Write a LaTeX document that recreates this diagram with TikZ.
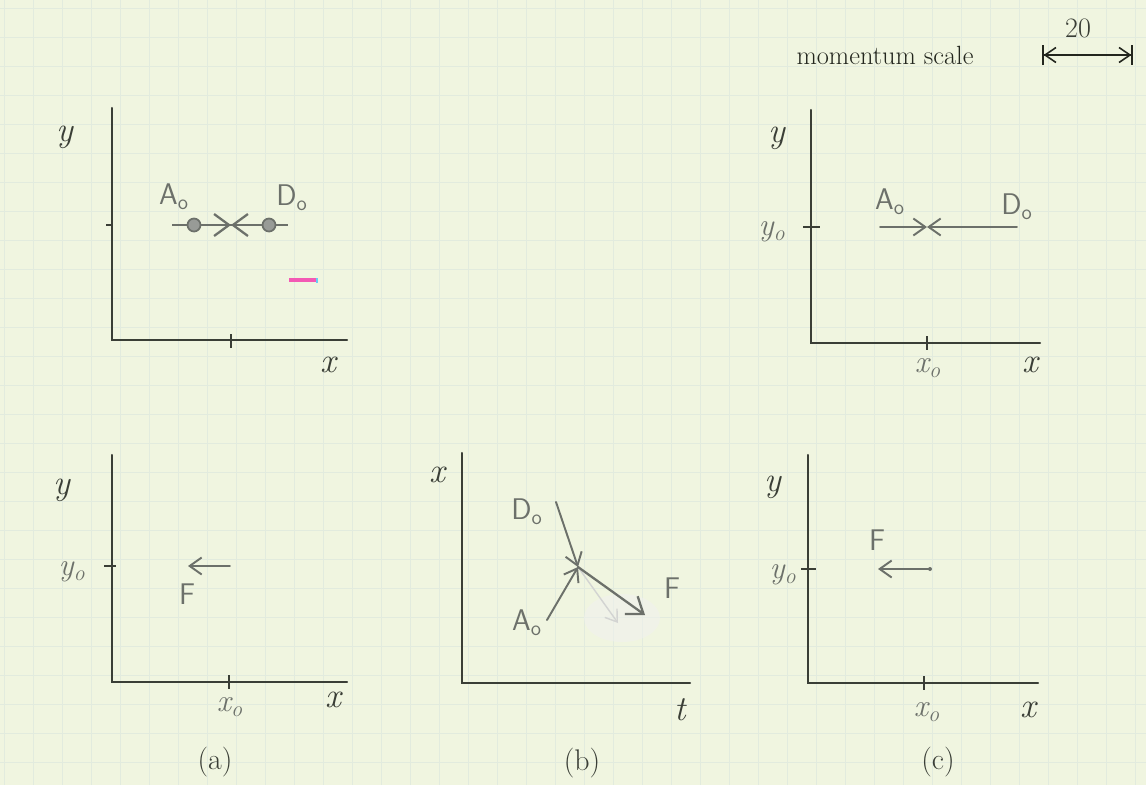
\documentclass[tikz,border=0pt]{standalone}
\usetikzlibrary{arrows.meta}
\definecolor{paper}{RGB}{240,245,224}
\definecolor{gridc}{RGB}{226,235,222}
\definecolor{pencil}{RGB}{108,112,106}
\definecolor{axisc}{RGB}{58,62,54}
\definecolor{inkc}{RGB}{35,38,30}
\begin{document}
\begin{tikzpicture}[x=0.02cm,y=-0.02cm,
  axis/.style={draw=axisc, line width=1.2pt, line cap=round},
  tickmark/.style={draw=axisc, line width=0.8pt},
  vec/.style={draw=pencil, line width=1.1pt, line cap=round, -{Straight Barb[length=2.4mm,width=3.4mm,line width=1.1pt]}},
  bigvec/.style={draw=pencil, line width=1.3pt, line cap=round, -{Straight Barb[length=3mm,width=4.4mm,line width=1.3pt]}},
  faintvec/.style={draw=pencil!30, line width=0.8pt, -{Straight Barb[length=2.2mm,width=3mm]}},
  lab/.style={text=pencil, font=\fontsize{17}{19}\selectfont\sffamily, inner sep=0pt},
  axlab/.style={text=axisc, font=\fontsize{20}{22}\selectfont\itshape, inner sep=0pt},
  sublab/.style={text=pencil, font=\fontsize{18}{20}\selectfont\itshape, inner sep=0pt},
  captxt/.style={text=axisc, font=\fontsize{17}{19}\selectfont, inner sep=0pt},
  ball/.style={circle, draw=pencil, line width=1pt, fill=pencil!70, minimum size=0.26cm, inner sep=0pt},
]
\fill[paper] (0,0) rectangle (1146,785);
\useasboundingbox (0,0) rectangle (1146,785);
% graph paper grid
\foreach \i in {0,...,40} \draw[gridc, line width=0.4pt] (\i*29+4,0) -- (\i*29+4,785);
\foreach \j in {0,...,27} \draw[gridc, line width=0.4pt] (0,\j*29+8) -- (1146,\j*29+8);

% ---------- momentum scale ----------
\node[text=inkc, font=\fontsize{15}{17}\selectfont, inner sep=0pt] (msc) at (885,55) {momentum scale};
\node[text=axisc, font=\fontsize{16}{18}\selectfont, inner sep=0pt] (twenty) at (1078,28) {20};
\coordinate (s1) at (1042,55);
\coordinate (s2) at (1133,55);
\draw[draw=inkc, line width=0.9pt, {Bar[width=4mm]Straight Barb[length=2.2mm,width=3mm]}-{Straight Barb[length=2.2mm,width=3mm]Bar[width=4mm]}] (s1) -- (s2);

% ---------- top left panel ----------
\coordinate (o1) at (112,340);
\coordinate (t1) at (112,108);
\coordinate (e1) at (347,340);
\draw[axis] (t1) -- (o1) -- (e1);
\coordinate (xt1a) at (231,334); \coordinate (xt1b) at (231,348);
\draw[tickmark] (xt1a) -- (xt1b);
\coordinate (yt1a) at (106,225); \coordinate (yt1b) at (112,225);
\draw[tickmark] (yt1a) -- (yt1b);
\coordinate (l1a) at (172,225); \coordinate (l1b) at (288,225);
\draw[draw=pencil, line width=1pt] (l1a) -- (l1b);
\node[ball] (ca) at (194,225) {};
\node[ball] (cd) at (269,225) {};
\coordinate (c1) at (231,225);
\draw[bigvec] (ca) -- (c1);
\draw[bigvec] (cd) -- (c1);
\node[lab] (a1) at (174,197) {A\textsubscript{o}};
\node[lab] (d1) at (292,198) {D\textsubscript{o}};
\node[axlab] (ylab1) at (65,137) {y};
\node[axlab] (xlab1) at (328,365) {x};
\fill[magenta!65] (289,278) rectangle (316,282);
\fill[cyan!60] (316,278) rectangle (318,283);

% ---------- top right panel ----------
\coordinate (o2) at (811,343);
\coordinate (t2) at (811,110);
\coordinate (e2) at (1040,343);
\draw[axis] (t2) -- (o2) -- (e2);
\coordinate (xt2a) at (927,336); \coordinate (xt2b) at (927,350);
\draw[tickmark] (xt2a) -- (xt2b);
\coordinate (yt2a) at (803,227); \coordinate (yt2b) at (820,227);
\draw[tickmark] (yt2a) -- (yt2b);
\coordinate (a2s) at (880,227);
\coordinate (c2) at (927,227);
\coordinate (d2s) at (1017,227);
\draw[vec] (a2s) -- (c2);
\draw[vec] (d2s) -- (c2);
\node[lab] (a2) at (890,202) {A\textsubscript{o}};
\node[lab] (d2) at (1017,207) {D\textsubscript{o}};
\node[axlab] (ylab2) at (777,138) {y};
\node[sublab] (y0lab2) at (772,232) {y\textsubscript{o}};
\node[sublab] (x0lab2) at (928,368) {x\textsubscript{o}};
\node[axlab] (xlab2) at (1030,365) {x};

% ---------- bottom left panel (a) ----------
\coordinate (o3) at (112,682);
\coordinate (t3) at (112,455);
\coordinate (e3) at (347,682);
\draw[axis] (t3) -- (o3) -- (e3);
\coordinate (xt3a) at (229,675); \coordinate (xt3b) at (229,689);
\draw[tickmark] (xt3a) -- (xt3b);
\coordinate (yt3a) at (104,566); \coordinate (yt3b) at (116,566);
\draw[tickmark] (yt3a) -- (yt3b);
\coordinate (f3s) at (230,566);
\coordinate (f3e) at (188,566);
\draw[vec] (f3s) -- (f3e);
\node[lab] (f3) at (187,594) {F};
\node[axlab] (ylab3) at (62,490) {y};
\node[sublab] (y0lab3) at (72,572) {y\textsubscript{o}};
\node[sublab] (x0lab3) at (230,707) {x\textsubscript{o}};
\node[axlab] (xlab3) at (333,700) {x};
\node[captxt] (capa) at (215,762) {(a)};

% ---------- bottom middle panel (b) ----------
\coordinate (o4) at (462,683);
\coordinate (t4) at (462,453);
\coordinate (e4) at (690,683);
\draw[axis] (t4) -- (o4) -- (e4);
\fill[pencil!10, opacity=0.5] (622,618) ellipse [x radius=38, y radius=24];
\coordinate (p4) at (578,567);
\coordinate (d4s) at (556,502);
\coordinate (a4s) at (547,620);
\coordinate (f4e) at (645,615);
\coordinate (g4e) at (618,623);
\draw[faintvec] (p4) -- (g4e);
\draw[vec] (d4s) -- (p4);
\draw[vec] (a4s) -- (p4);
\draw[bigvec] (p4) -- (f4e);
\node[lab] (d4) at (527,512) {D\textsubscript{o}};
\node[lab] (a4) at (527,623) {A\textsubscript{o}};
\node[lab] (f4) at (672,588) {F};
\node[axlab] (xlab4) at (437,475) {x};
\node[axlab] (tlab4) at (680,710) {t};
\node[captxt] (capb) at (582,763) {(b)};

% ---------- bottom right panel (c) ----------
\coordinate (o5) at (808,683);
\coordinate (t5) at (808,455);
\coordinate (e5) at (1038,683);
\draw[axis] (t5) -- (o5) -- (e5);
\coordinate (xt5a) at (924,676); \coordinate (xt5b) at (924,690);
\draw[tickmark] (xt5a) -- (xt5b);
\coordinate (yt5a) at (801,569); \coordinate (yt5b) at (816,569);
\draw[tickmark] (yt5a) -- (yt5b);
\coordinate (f5s) at (930,569);
\coordinate (f5e) at (878,569);
\draw[vec] (f5s) -- (f5e);
\fill[pencil] (f5s) circle [radius=2];
\node[lab] (f5) at (877,540) {F};
\node[axlab] (ylab5) at (773,487) {y};
\node[sublab] (y0lab5) at (783,575) {y\textsubscript{o}};
\node[sublab] (x0lab5) at (927,712) {x\textsubscript{o}};
\node[axlab] (xlab5) at (1028,710) {x};
\node[captxt] (capc) at (938,762) {(c)};
\end{tikzpicture}
\end{document}
